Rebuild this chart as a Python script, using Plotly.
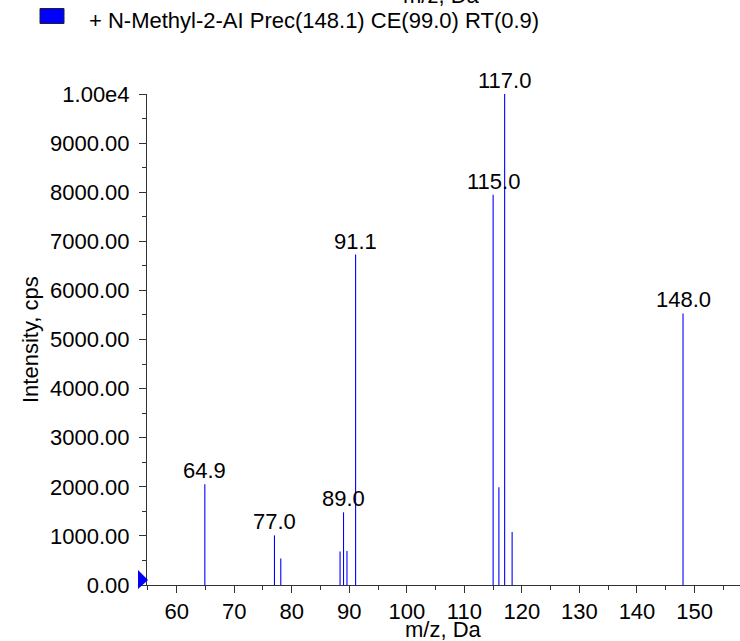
import plotly.graph_objects as go

# ---- data ----
mz_values = [64.9, 77.0, 78.1, 88.4, 89.0, 89.6, 91.1, 115.0, 116.0, 117.0, 118.3, 148.0]
intensities = [2050, 1010, 540, 680, 1480, 690, 6730, 7950, 1990, 10000, 1080, 5530]
labeled_peaks = [64.9, 77.0, 89.0, 91.1, 115.0, 117.0, 148.0]
y_tick_values = [0, 1000, 2000, 3000, 4000, 5000, 6000, 7000, 8000, 9000, 10000]
y_tick_labels = ["0.00", "1000.00", "2000.00", "3000.00", "4000.00", "5000.00",
                 "6000.00", "7000.00", "8000.00", "9000.00", "1.00e4"]
legend_text = "+ N-Methyl-2-AI Prec(148.1) CE(99.0) RT(0.9)"
x_title = "m/z, Da"
y_title = "Intensity, cps"

FONT = "Arial, Liberation Sans, sans-serif"
BLUE = "#0000FF"
AXIS = "#333333"

W, H = 740, 641
ML, MR, MT, MB = 147, 0, 94, 56
PW, PH = W - ML - MR, H - MT - MB


def px_to_paper_x(px):
    return (px - ML) / PW


def px_to_paper_y(py):
    return (H - MB - py) / PH


# stick spectrum as line segments
xs, ys = [], []
for m, v in zip(mz_values, intensities):
    xs += [m, m, None]
    ys += [0, v, None]

fig = go.Figure()
fig.add_trace(go.Scatter(x=xs, y=ys, mode="lines",
                         line=dict(color=BLUE, width=1.1),
                         hoverinfo="skip", showlegend=False))

annotations = []
for m, v in zip(mz_values, intensities):
    if m in labeled_peaks:
        annotations.append(dict(x=m, y=v, xref="x", yref="y", text=f"{m:.1f}",
                                showarrow=False, xanchor="center", yanchor="bottom",
                                yshift=-1, font=dict(family=FONT, size=22, color="black")))

# axis titles
annotations.append(dict(x=px_to_paper_x(443), y=px_to_paper_y(629), xref="paper", yref="paper",
                        text=x_title, showarrow=False, xanchor="center", yanchor="middle",
                        font=dict(family=FONT, size=22, color="black")))
annotations.append(dict(x=px_to_paper_x(30), y=px_to_paper_y(340), xref="paper", yref="paper",
                        text=y_title, showarrow=False, textangle=-90,
                        xanchor="center", yanchor="middle",
                        font=dict(family=FONT, size=22, color="black")))
# clipped title of the plot above
annotations.append(dict(x=px_to_paper_x(441), y=px_to_paper_y(9.5), xref="paper", yref="paper",
                        text=x_title, showarrow=False, xanchor="center", yanchor="bottom",
                        font=dict(family=FONT, size=22, color="black")))
# legend text
annotations.append(dict(x=px_to_paper_x(87), y=px_to_paper_y(21), xref="paper", yref="paper",
                        text=legend_text, showarrow=False, xanchor="left", yanchor="middle",
                        font=dict(family=FONT, size=22, color="black")))

shapes = [
    # legend swatch
    dict(type="rect", xref="paper", yref="paper",
         x0=px_to_paper_x(40), x1=px_to_paper_x(64),
         y0=px_to_paper_y(23.5), y1=px_to_paper_y(8.5),
         fillcolor=BLUE, line=dict(color="#222222", width=1)),
    # zero marker triangle (left of the y axis, at zero)
    dict(type="path", xref="paper", yref="paper", xsizemode="pixel", ysizemode="pixel",
         xanchor=0, yanchor=0, path="M -9,-4 L 1,5 L -9,15 Z",
         fillcolor=BLUE, line=dict(width=0)),
]

fig.update_layout(
    width=W, height=H,
    margin=dict(l=ML, r=MR, t=MT, b=MB, pad=0),
    paper_bgcolor="white", plot_bgcolor="white",
    font=dict(family=FONT, size=22, color="black"),
    showlegend=False,
    annotations=annotations,
    shapes=shapes,
    xaxis=dict(range=[54.85, 157.9], tickmode="linear", tick0=0, dtick=10,
               ticks="outside", ticklen=7, tickwidth=1, tickcolor=AXIS,
               showline=True, linecolor=AXIS, linewidth=1,
               showgrid=False, zeroline=False,
               tickfont=dict(family=FONT, size=22, color="black"),
               minor=dict(tickmode="linear", tick0=0, dtick=5, ticks="outside",
                          ticklen=4, tickcolor=AXIS, showgrid=False)),
    yaxis=dict(range=[0, 10000], tickmode="array", tickvals=y_tick_values,
               ticktext=y_tick_labels,
               ticks="outside", ticklen=7, tickwidth=1, tickcolor=AXIS,
               showline=True, linecolor=AXIS, linewidth=1,
               showgrid=False, zeroline=False, ticklabelstandoff=5,
               tickfont=dict(family=FONT, size=22, color="black"),
               minor=dict(tickmode="linear", tick0=0, dtick=500, ticks="outside",
                          ticklen=4, tickcolor=AXIS, showgrid=False)),
)

# remove the browser's default page margin so the figure sits at the window's origin
fig.write_html("out.html", config={"displayModeBar": False},
               post_script="document.body.style.margin='0';document.body.style.overflow='hidden';")
